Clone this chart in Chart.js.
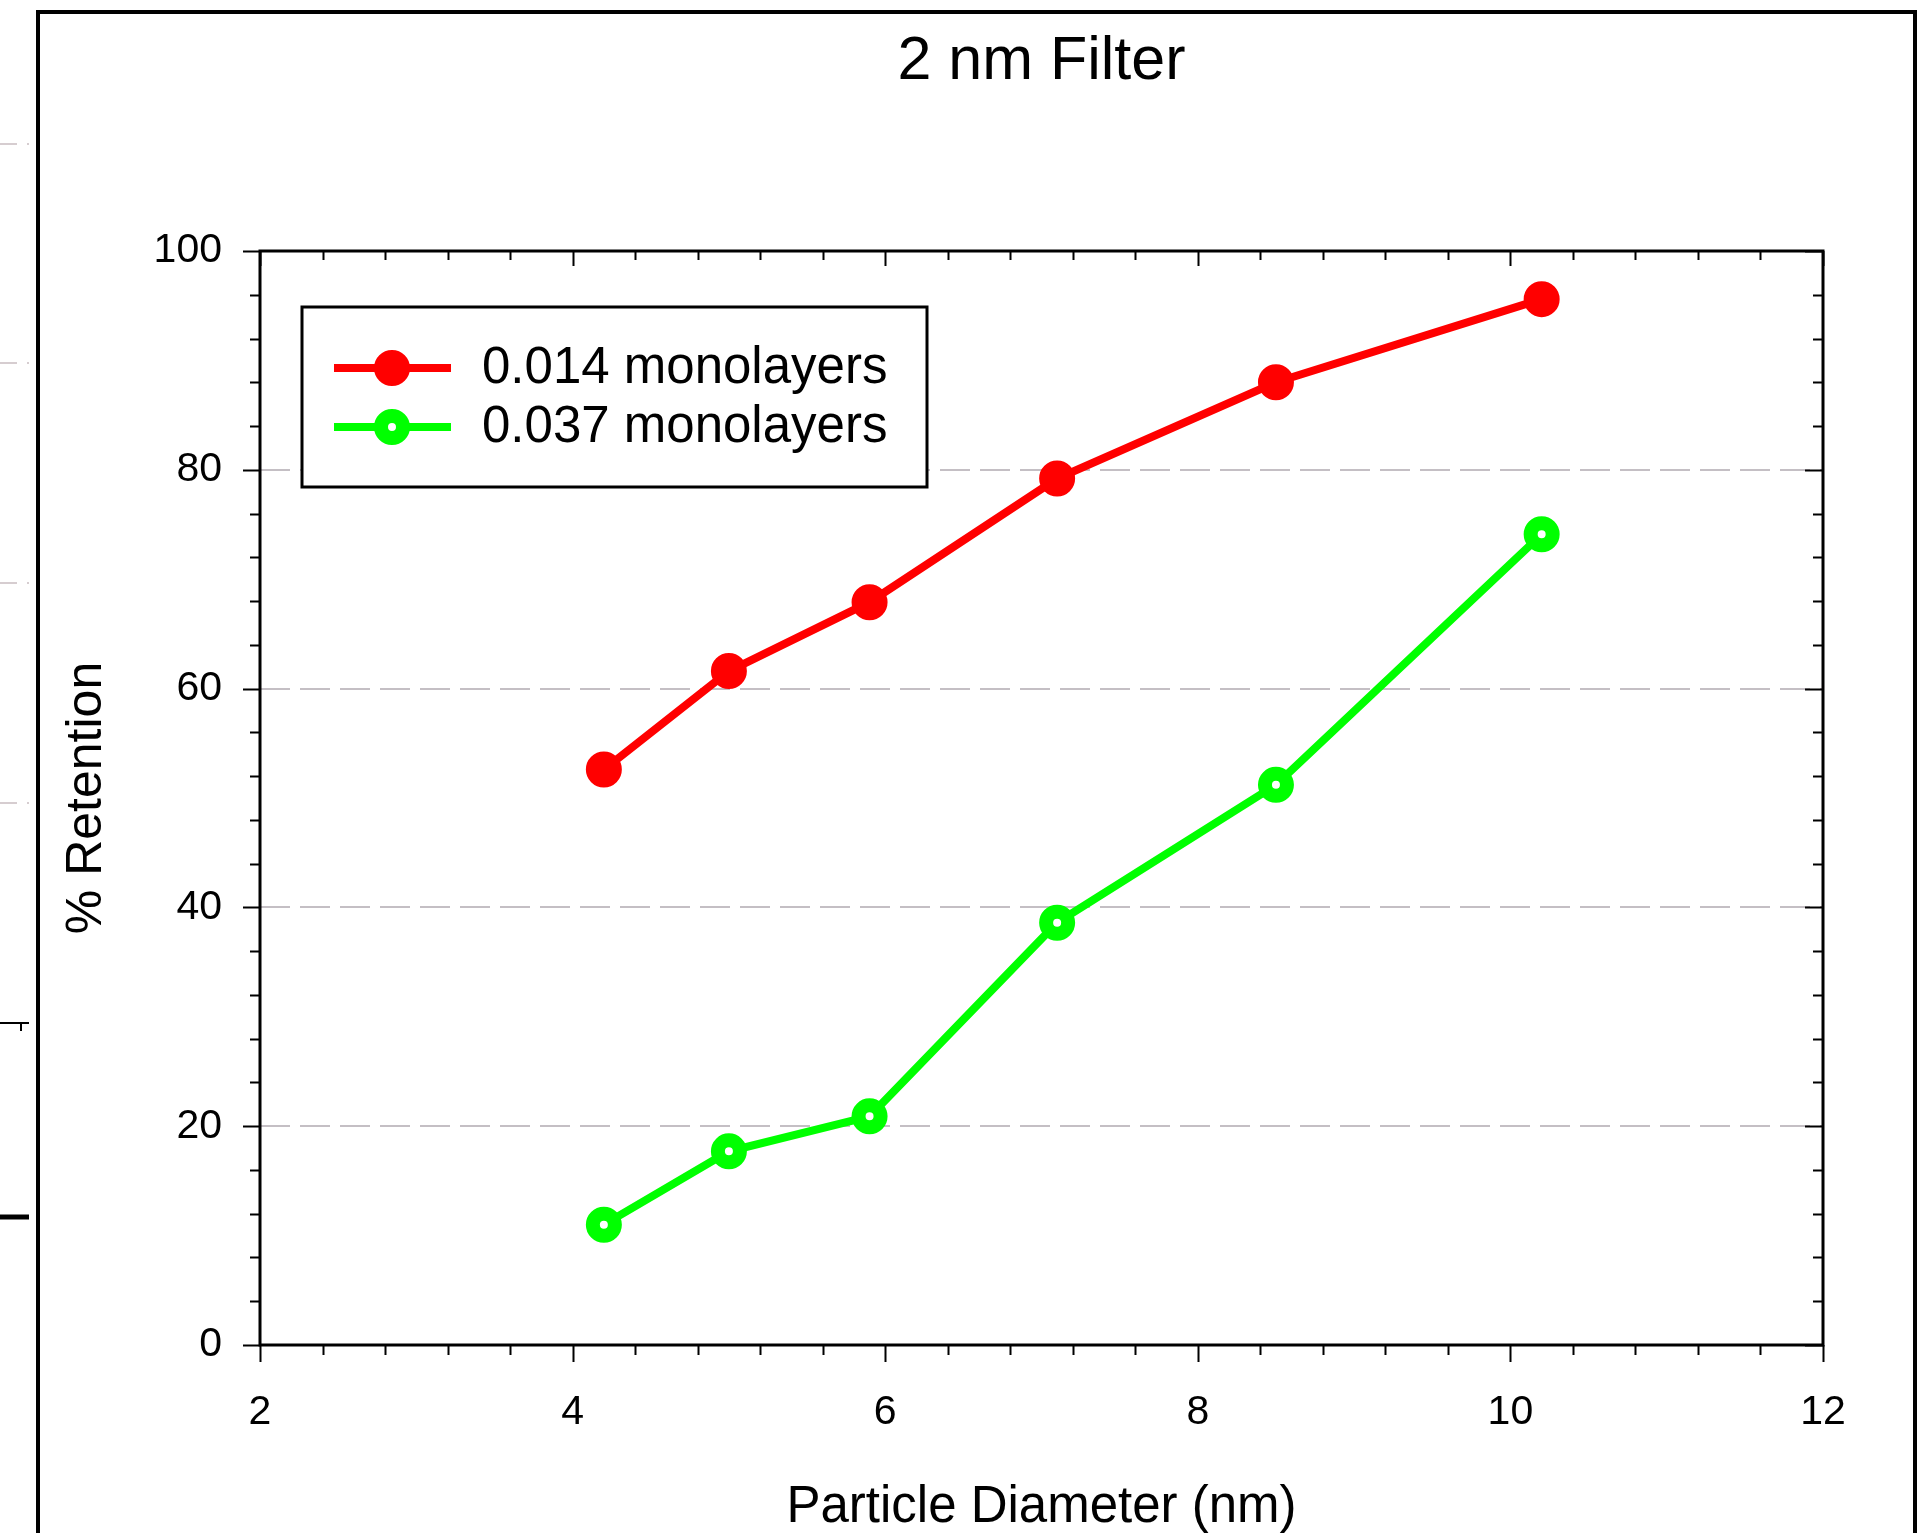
<!DOCTYPE html>
<html lang="en">
<head>
<meta charset="UTF-8" />
<title>2 nm Filter</title>
<script src="https://cdn.jsdelivr.net/npm/chart.js"></script>
<style>
  html, body { margin: 0; padding: 0; background: #fff; overflow: hidden; }
</style>
</head>
<body>
<canvas id="retentionChart" width="1920" height="1533"></canvas>
<script>
// values
const diameters = [4.2, 5.0, 5.9, 7.1, 8.5, 10.2];
const retentionLow = [52.6, 61.6, 67.9, 79.2, 88.0, 95.6];
const retentionHigh = [11.0, 17.7, 20.9, 38.6, 51.2, 74.1];
const seriesLabels = ['0.014 monolayers', '0.037 monolayers'];
const xTicks = [2, 4, 6, 8, 10, 12];
const yTicks = [0, 20, 40, 60, 80, 100];

const FONT = "'Liberation Sans', Arial, Helvetica, sans-serif";

const toPoints = (ys) => ys.map((y, i) => ({ x: diameters[i], y: y }));

// plot frame, inner/outer ticks and minor ticks
const axisFrame = {
  id: 'axisFrame',
  afterDatasetsDraw(chart) {
    const { ctx, chartArea: a, scales: { x, y } } = chart;
    ctx.save();
    ctx.strokeStyle = '#000';
    ctx.lineWidth = 2;
    ctx.beginPath();
    for (let i = 0; i <= 25; i++) {
      const px = Math.round(x.getPixelForValue(2 + i * 0.4)) + 0.5;
      const len = i % 5 === 0 ? 17 : 10;
      ctx.moveTo(px, a.bottom); ctx.lineTo(px, a.bottom + len);
      ctx.moveTo(px, a.top); ctx.lineTo(px, a.top + (i % 5 === 0 ? 15 : 9));
    }
    for (let i = 0; i <= 25; i++) {
      const py = Math.round(y.getPixelForValue(i * 4)) + 0.5;
      const len = i % 5 === 0 ? 17 : 10;
      ctx.moveTo(a.left - len, py); ctx.lineTo(a.left, py);
      ctx.moveTo(a.right - (i % 5 === 0 ? 18 : 10), py); ctx.lineTo(a.right, py);
    }
    ctx.stroke();
    ctx.lineWidth = 3;
    ctx.strokeRect(a.left, a.top, a.right - a.left, a.bottom - a.top);
    ctx.restore();
  }
};

// boxed legend inside the plot
const boxLegend = {
  id: 'boxLegend',
  afterDatasetsDraw(chart) {
    const ctx = chart.ctx;
    ctx.save();
    ctx.fillStyle = '#fff';
    ctx.fillRect(302, 307, 625, 180);
    ctx.strokeStyle = '#000';
    ctx.lineWidth = 3;
    ctx.strokeRect(302, 307, 625, 180);
    chart.data.datasets.forEach((ds, i) => {
      const cy = 368 + i * 59;
      ctx.strokeStyle = ds.borderColor;
      ctx.lineWidth = ds.borderWidth;
      ctx.beginPath();
      ctx.moveTo(334, cy); ctx.lineTo(451, cy);
      ctx.stroke();
      ctx.fillStyle = ds.pointBackgroundColor;
      ctx.strokeStyle = ds.pointBorderColor;
      ctx.lineWidth = ds.pointBorderWidth;
      Chart.helpers.drawPoint(ctx, { pointStyle: 'circle', radius: ds.pointRadius, borderWidth: ds.pointBorderWidth, rotation: 0 }, 392, cy);
      ctx.fillStyle = '#000';
      ctx.font = '51px ' + FONT;
      ctx.textBaseline = 'middle';
      ctx.textAlign = 'left';
      ctx.fillText(ds.label, 482, cy + 1);
    });
    ctx.restore();
  }
};

// page frame and the cut-off edge of the neighbouring panel
const pageFrame = {
  id: 'pageFrame',
  afterDraw(chart) {
    const ctx = chart.ctx;
    ctx.save();
    ctx.strokeStyle = '#000';
    ctx.lineWidth = 4;
    ctx.beginPath();
    ctx.moveTo(38, 1533); ctx.lineTo(38, 12); ctx.lineTo(1915, 12); ctx.lineTo(1915, 1533);
    ctx.stroke();
    ctx.strokeStyle = '#d6cdd0';
    ctx.lineWidth = 2;
    ctx.beginPath();
    [144, 363, 583, 803].forEach(yy => {
      ctx.moveTo(0, yy); ctx.lineTo(17, yy);
      ctx.moveTo(27, yy); ctx.lineTo(29, yy);
    });
    ctx.stroke();
    ctx.strokeStyle = '#000';
    ctx.beginPath();
    ctx.moveTo(0, 1023); ctx.lineTo(29, 1023);
    ctx.moveTo(21, 1023); ctx.lineTo(21, 1031);
    ctx.stroke();
    ctx.lineWidth = 5;
    ctx.beginPath();
    ctx.moveTo(0, 1217); ctx.lineTo(29, 1217);
    ctx.stroke();
    ctx.restore();
  }
};

const ctx = document.getElementById('retentionChart').getContext('2d');
new Chart(ctx, {
  type: 'line',
  data: {
    datasets: [
      {
        label: seriesLabels[0],
        data: toPoints(retentionLow),
        borderColor: '#ff0000',
        borderWidth: 8,
        pointRadius: 16,
        pointBorderWidth: 4,
        pointBackgroundColor: '#ff0000',
        pointBorderColor: '#ff0000',
        tension: 0,
        clip: false
      },
      {
        label: seriesLabels[1],
        data: toPoints(retentionHigh),
        borderColor: '#00ff00',
        borderWidth: 8,
        pointRadius: 11,
        pointBorderWidth: 14,
        pointBackgroundColor: '#ffffff',
        pointBorderColor: '#00ff00',
        tension: 0,
        clip: false
      }
    ]
  },
  options: {
    responsive: false,
    animation: false,
    events: [],
    layout: { padding: { left: 0, right: 97, top: 0, bottom: 0 } },
    plugins: {
      legend: { display: false },
      tooltip: { enabled: false },
      title: {
        display: true,
        fullSize: false,
        text: '2 nm Filter',
        color: '#000',
        font: { family: FONT, size: 61, weight: 'normal', lineHeight: 1 },
        padding: { top: 32, bottom: 158 }
      }
    },
    scales: {
      x: {
        type: 'linear',
        min: 2,
        max: 12,
        afterBuildTicks: (s) => { s.ticks = xTicks.map(v => ({ value: v })); },
        afterFit: (s) => { s.height = 188; },
        grid: { display: false, drawTicks: false },
        border: { display: false },
        ticks: {
          color: '#000',
          padding: 43,
          maxRotation: 0,
          font: { family: FONT, size: 41 }
        },
        title: {
          display: true,
          text: 'Particle Diameter (nm)',
          color: '#000',
          font: { family: FONT, size: 51, lineHeight: 1 },
          padding: { top: 0, bottom: 0 }
        }
      },
      y: {
        type: 'linear',
        min: 0,
        max: 100,
        afterBuildTicks: (s) => { s.ticks = yTicks.map(v => ({ value: v })); },
        afterFit: (s) => { s.width = 260; },
        grid: {
          drawTicks: false,
          lineWidth: 2,
          color: (c) => (c.tick && (c.tick.value === 0 || c.tick.value === 100)) ? 'rgba(0,0,0,0)' : '#c4bfc4'
        },
        border: { display: false, dash: [30, 10] },
        ticks: {
          color: '#000',
          padding: 38,
          font: { family: FONT, size: 41 }
        },
        title: {
          display: true,
          text: '% Retention',
          color: '#000',
          font: { family: FONT, size: 50, lineHeight: 1 },
          padding: { top: 62, bottom: 0 }
        }
      }
    }
  },
  plugins: [axisFrame, boxLegend, pageFrame]
});
</script>
</body>
</html>
